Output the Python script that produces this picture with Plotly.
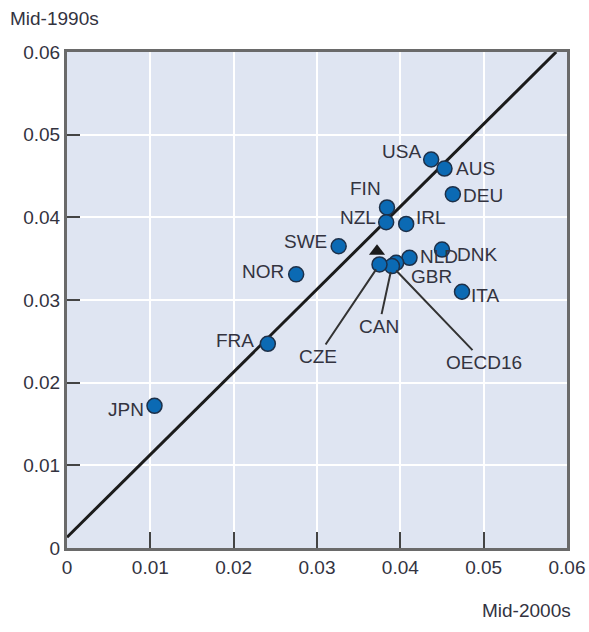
import plotly.graph_objects as go

# ── Data ──────────────────────────────────────────────────────────────────────
COUNTRIES = ["JPN", "FRA", "NOR", "SWE", "FIN", "NZL", "IRL", "USA", "AUS",
             "DEU", "DNK", "NLD", "GBR", "CAN", "CZE", "ITA"]
MID_2000S = [0.0105, 0.0241, 0.0275, 0.0326, 0.0384, 0.0383, 0.0407, 0.0437,
             0.0453, 0.0463, 0.0450, 0.0411, 0.0395, 0.0390, 0.0375, 0.0474]
MID_1990S = [0.0172, 0.0247, 0.0331, 0.0365, 0.0412, 0.0394, 0.0392, 0.0470,
             0.0459, 0.0428, 0.0361, 0.0351, 0.0345, 0.0341, 0.0343, 0.0310]

OECD_X = [0.0372]
OECD_Y = [0.0359]

LINE_INTERCEPT = 0.0013
LINE_X = [0.0, 0.0587]

TICKS = [0, 0.01, 0.02, 0.03, 0.04, 0.05, 0.06]
TICK_TEXT = ["0", "0.01", "0.02", "0.03", "0.04", "0.05", "0.06"]

FONT = "Liberation Sans Narrow, Arial Narrow, Liberation Sans, sans-serif"
TXT = "#33333f"
DOT = "#0b6ab4"
FRAME = "#6a6a6a"

# label placement: (xshift, yshift, xanchor)
LABEL_POS = {
    "JPN": (-9, -4, "right"), "FRA": (-12, 3, "right"), "NOR": (-10, 3, "right"),
    "SWE": (-10, 5, "right"), "FIN": (-4, 19, "right"), "NZL": (-8, 5, "right"),
    "IRL": (8, 6, "left"), "USA": (-8, 8, "right"), "AUS": (9, 0, "left"),
    "DEU": (8, -1, "left"), "DNK": (13, -5, "left"), "NLD": (8, 1, "left"),
    "GBR": (13, -14, "left"), "ITA": (7, -4, "left"),
}
# leader-line labels: (tip country, ax, ay)
LEADERS = {"CZE": ("CZE", -62, 92), "CAN": ("CAN", -13, 60), "OECD16": ("CAN", 92, 96)}

fig = go.Figure()

fig.add_trace(go.Scatter(
    x=LINE_X, y=[v + LINE_INTERCEPT for v in LINE_X],
    mode="lines", line=dict(color="#1b1b1b", width=3),
    showlegend=False, hoverinfo="skip",
))

fig.add_trace(go.Scatter(
    x=OECD_X, y=OECD_Y, mode="markers",
    marker=dict(symbol="triangle-up", size=14, color="#1b1b1b"),
    showlegend=False,
))

fig.add_trace(go.Scatter(
    x=MID_2000S, y=MID_1990S, mode="markers",
    marker=dict(size=15, color=DOT, line=dict(color="#1d3049", width=1.5)),
    text=COUNTRIES, showlegend=False,
))

for c, (dx, dy, anchor) in LABEL_POS.items():
    i = COUNTRIES.index(c)
    fig.add_annotation(
        x=MID_2000S[i], y=MID_1990S[i], text=c, showarrow=False,
        xshift=dx, yshift=dy, xanchor=anchor, yanchor="middle",
        font=dict(family=FONT, size=19, color=TXT),
    )

for lab, (c, ax, ay) in LEADERS.items():
    i = COUNTRIES.index(c)
    fig.add_annotation(
        x=MID_2000S[i], y=MID_1990S[i], text=lab, showarrow=True,
        arrowhead=0, arrowwidth=2, arrowcolor="#333333", standoff=6,
        ax=ax, ay=ay, font=dict(family=FONT, size=19, color=TXT),
    )

axis_common = dict(
    range=[0, 0.06], tickvals=TICKS, ticktext=TICK_TEXT,
    showgrid=True, gridcolor="white", gridwidth=2, zeroline=False,
    showline=True, linecolor=FRAME, linewidth=3, mirror=True,
    ticks="inside", tickcolor="#444444", tickwidth=2,
    tickfont=dict(family=FONT, size=19, color=TXT),
)

fig.update_xaxes(**axis_common, ticklen=16)
fig.update_yaxes(**axis_common, ticklen=13)

fig.add_annotation(
    xref="paper", yref="paper", x=-0.118, y=1.068, xanchor="left", yanchor="middle",
    text="Mid-1990s", showarrow=False, font=dict(family=FONT, size=19, color=TXT),
)
fig.add_annotation(
    xref="paper", yref="paper", x=1.012, y=-0.127, xanchor="right", yanchor="middle",
    text="Mid-2000s", showarrow=False, font=dict(family=FONT, size=19, color=TXT),
)

fig.update_layout(
    width=597, height=632,
    margin=dict(l=67, r=21, t=52, b=84),
    plot_bgcolor="#dfe5f2", paper_bgcolor="white",
    showlegend=False,
)

# drop the browser's default page margin so the figure sits at the window corner
fig.write_html(
    "out.html",
    config={"displayModeBar": False},
    post_script="document.body.style.margin='0'; document.body.style.overflow='hidden';",
)
